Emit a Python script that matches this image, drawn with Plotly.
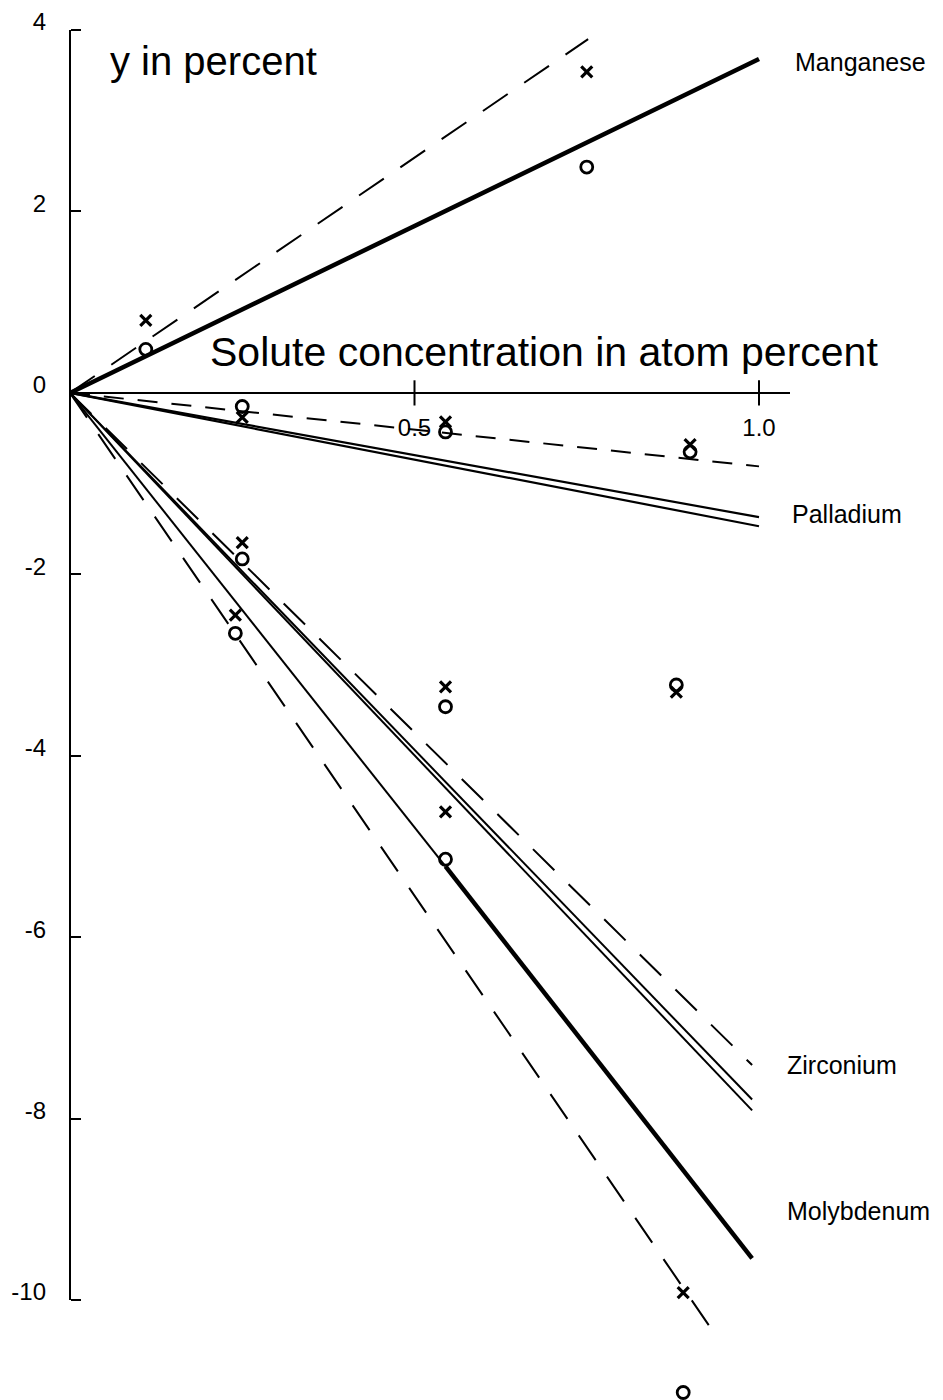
import plotly.graph_objects as go

# ---- measured points: solute concentration (atom %) vs y (%) ----
MN_CONC = [0.11, 0.75]
MN_X = [0.80, 3.54]
MN_O = [0.48, 2.49]

PD_CONC = [0.25, 0.545, 0.90]
PD_X = [-0.27, -0.32, -0.57]
PD_O = [-0.15, -0.43, -0.65]

ZR_CONC = [0.25, 0.545, 0.88]
ZR_X = [-1.65, -3.24, -3.30]
ZR_O = [-1.83, -3.46, -3.22]

MO_CONC = [0.24, 0.545, 0.89]
MO_X = [-2.45, -4.62, -9.92]
MO_O = [-2.65, -5.14, -11.02]

# ---- fitted lines (concentration, y) ----
MN_SOLID_C = [0.0, 1.0]
MN_SOLID_Y = [0.0, 3.68]
MN_DASH_C = [0.0, 0.752]
MN_DASH_Y = [0.0, 3.90]

PD_SOLID_A_C = [0.0, 1.0]
PD_SOLID_A_Y = [0.0, -1.37]
PD_SOLID_B_C = [0.0, 1.0]
PD_SOLID_B_Y = [0.0, -1.47]
PD_DASH_C = [0.0, 1.0]
PD_DASH_Y = [0.0, -0.81]

ZR_SOLID_A_C = [0.0, 0.99]
ZR_SOLID_A_Y = [0.0, -7.79]
ZR_SOLID_B_C = [0.0, 0.99]
ZR_SOLID_B_Y = [0.0, -7.91]
ZR_DASH_C = [0.0, 0.99]
ZR_DASH_Y = [0.0, -7.41]

MO_SOLID_C = [0.0, 0.545, 0.99]
MO_SOLID_Y = [0.0, -5.22, -9.54]
MO_DASH_C = [0.0, 0.94]
MO_DASH_Y = [0.0, -10.42]

# ---- axes ----
Y_TICKS = [4, 2, 0, -2, -4, -6, -8, -10]
Y_TICK_TEXT = ["4", "2", "0", "-2", "-4", "-6", "-8", "-10"]
X_TICKS = [0.5, 1.0]
X_TICK_TEXT = ["0.5", "1.0"]
X_AXIS_END = 1.045

ELEMENTS = ["Manganese", "Palladium", "Zirconium", "Molybdenum"]

# ---- page geometry ----
W, H = 943, 1400
ORIGIN_PX = (70, 392.9)          # pixel position of (0, 0)
PX_PER_X = 689.0
PX_PER_Y = 90.71
x_range = [-ORIGIN_PX[0] / PX_PER_X, (W - ORIGIN_PX[0]) / PX_PER_X]
y_range = [-(H - ORIGIN_PX[1]) / PX_PER_Y, ORIGIN_PX[1] / PX_PER_Y]

FONT = "Liberation Sans, Arial, Helvetica, sans-serif"
INK = "#000000"

fig = go.Figure()


def line(c, y, width=2.0, dash="solid"):
    fig.add_trace(go.Scatter(x=c, y=y, mode="lines",
                             line=dict(color=INK, width=width, dash=dash),
                             hoverinfo="skip"))


def points(c, y, symbol):
    if symbol == "x":
        mk = dict(symbol="x-thin-open", size=11, color=INK,
                  line=dict(color=INK, width=3.2))
    else:
        mk = dict(symbol="circle-open", size=12, color=INK,
                  line=dict(color=INK, width=2.8))
    fig.add_trace(go.Scatter(x=c, y=y, mode="markers", marker=mk,
                             cliponaxis=False, hoverinfo="skip"))


LONG_DASH = "30px,20px"
SHORT_DASH = "20px,14px"

# Manganese
line(MN_SOLID_C, MN_SOLID_Y, width=4.5)
line(MN_DASH_C, MN_DASH_Y, dash=LONG_DASH)
# Palladium
line(PD_SOLID_A_C, PD_SOLID_A_Y, width=2.2)
line(PD_SOLID_B_C, PD_SOLID_B_Y, width=2.2)
line(PD_DASH_C, PD_DASH_Y, dash=SHORT_DASH)
# Zirconium
line(ZR_SOLID_A_C, ZR_SOLID_A_Y, width=2.0)
line(ZR_SOLID_B_C, ZR_SOLID_B_Y, width=2.0)
line(ZR_DASH_C, ZR_DASH_Y, dash=LONG_DASH)
# Molybdenum: light up to the middle point, heavy beyond it
line(MO_SOLID_C[:2], MO_SOLID_Y[:2], width=2.0)
line(MO_SOLID_C[1:], MO_SOLID_Y[1:], width=4.5)
line(MO_DASH_C, MO_DASH_Y, dash=LONG_DASH)

for conc, xs, os in [(MN_CONC, MN_X, MN_O), (PD_CONC, PD_X, PD_O),
                     (ZR_CONC, ZR_X, ZR_O), (MO_CONC, MO_X, MO_O)]:
    points(conc, xs, "x")
    points(conc, os, "o")

# tick marks crossing the concentration axis
fig.add_trace(go.Scatter(x=X_TICKS, y=[0] * len(X_TICKS), mode="markers",
                         marker=dict(symbol="line-ns", size=18,
                                     line=dict(color=INK, width=2)),
                         cliponaxis=False, hoverinfo="skip"))

# axis lines
fig.add_shape(type="line", xref="x", yref="y", x0=0, x1=0,
              y0=min(Y_TICKS), y1=max(Y_TICKS),
              line=dict(color=INK, width=2))
fig.add_shape(type="line", xref="x", yref="y", x0=0, x1=X_AXIS_END,
              y0=0, y1=0, line=dict(color=INK, width=2))

annotations = [
    dict(x=0.055, y=3.66, text="y in percent", xanchor="left",
         yanchor="middle", showarrow=False,
         font=dict(size=40, family=FONT, color=INK)),
    dict(x=0.20, y=0.45, text="Solute concentration in atom percent",
         xanchor="left", yanchor="middle", showarrow=False,
         font=dict(size=41, family=FONT, color=INK)),
]
label_pos = {"Manganese": (1.049, 3.65), "Palladium": (1.045, -1.34),
             "Zirconium": (1.038, -7.41), "Molybdenum": (1.038, -9.02)}
for name in ELEMENTS:
    lx, ly = label_pos[name]
    annotations.append(dict(x=lx, y=ly, text=name, xanchor="left",
                            yanchor="middle", showarrow=False,
                            font=dict(size=25, family=FONT, color=INK)))

fig.update_layout(
    width=W, height=H, autosize=False,
    margin=dict(l=0, r=0, t=0, b=0),
    paper_bgcolor="white", plot_bgcolor="white",
    showlegend=False,
    annotations=annotations,
    xaxis=dict(range=x_range, anchor="free",
               position=1 - ORIGIN_PX[1] / H,
               showline=False, zeroline=False, showgrid=False,
               tickvals=X_TICKS, ticktext=X_TICK_TEXT, ticks="",
               ticklabelstandoff=18,
               tickfont=dict(size=24, family=FONT, color=INK)),
    yaxis=dict(range=y_range, anchor="free",
               position=ORIGIN_PX[0] / W,
               showline=False, zeroline=False, showgrid=False,
               tickvals=Y_TICKS, ticktext=Y_TICK_TEXT,
               ticks="inside", ticklen=10, tickwidth=2, tickcolor=INK,
               ticklabelstandoff=24, ticklabelshift=-8,
               tickfont=dict(size=24, family=FONT, color=INK)),
)

fig.write_html("out.html")
